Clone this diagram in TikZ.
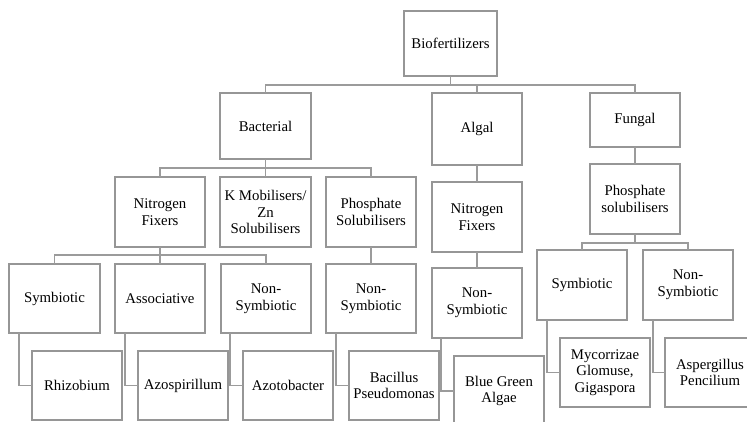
\documentclass[tikz,border=0pt]{standalone}
\usepackage{fontspec}
\setmainfont{Liberation Serif}
\definecolor{boxgray}{RGB}{150,150,150}
\definecolor{linegray}{RGB}{155,155,155}
\tikzset{
  box/.style={draw=boxgray, line width=1.3pt, inner sep=0pt, outer sep=0pt,
    align=center, minimum width=90pt, minimum height=70pt,
    font=\fontsize{14.8}{16.7}\selectfont},
  conn/.style={draw=linegray, line width=1.3pt},
}
\begin{document}
\begin{tikzpicture}[x=1pt,y=-1pt]
\fill[white] (0,0) rectangle (747,422);
\useasboundingbox (0,0) rectangle (747,422);
\clip (0,0) rectangle (747,422);

% level 0
\node[box, minimum width=93pt, minimum height=65pt] (bio) at (450.5,43.5) {Biofertilizers};
% level 1
\node[box, minimum width=91pt, minimum height=66pt] (bact) at (265.5,126) {Bacterial};
\node[box, minimum height=72pt] (algal) at (477,129) {Algal};
\node[box, minimum height=54pt] (fungal) at (635,120) {Fungal};
% level 2
\node[box] (nfix) at (160,212) {Nitrogen\\Fixers};
\node[box, minimum width=91pt] (kmob) at (265.5,212) {K Mobilisers/\\Zn\\Solubilisers};
\node[box] (psol) at (371,212) {Phosphate\\Solubilisers};
\node[box] (anf) at (477,217) {Nitrogen\\Fixers};
\node[box] (fphos) at (635,199) {Phosphate\\solubilisers};
% level 3
\node[box, minimum width=91pt, minimum height=69pt] (sym) at (54.5,298.5) {Symbiotic};
\node[box, minimum height=69pt] (assoc) at (160,298.5) {Associative};
\node[box, minimum height=69pt] (nsyma) at (266,298.5) {Non-\\Symbiotic};
\node[box, minimum height=69pt] (nsymb) at (371,298.5) {Non-\\Symbiotic};
\node[box] (ansym) at (477,303) {Non-\\Symbiotic};
\node[box] (fsym) at (582,285) {Symbiotic};
\node[box] (fnsym) at (688,285) {Non-\\Symbiotic};
% level 4
\node[box, minimum height=69pt] (rhiz) at (77,385.5) {Rhizobium};
\node[box, minimum height=69pt] (azos) at (183,385.5) {Azospirillum};
\node[box, minimum height=69pt] (azot) at (288,385.5) {Azotobacter};
\node[box, minimum height=69pt] (bac) at (394,385.5) {Bacillus\\Pseudomonas};
\node[box] (bga) at (499,391) {Blue Green\\Algae};
\node[box, minimum height=69pt] (myc) at (605,372.5) {Mycorrizae\\Glomuse,\\Gigaspora};
\node[box, minimum height=69pt] (asp) at (710,372.5) {Aspergillus\\Pencilium};

% tree connectors
\path (bio.south) ++(0,9) coordinate (j1);
\draw[conn] (bio.south) -- (j1);
\draw[conn] (bact.north) |- (j1) -| (fungal.north);
\draw[conn] (algal.north) -- (algal.north |- j1);

\path (bact.south) ++(0,9) coordinate (j2);
\draw[conn] (bact.south) -- (j2);
\draw[conn] (nfix.north) |- (j2) -| (psol.north);
\draw[conn] (kmob.north) -- (j2);

\path (nfix.south) ++(0,8) coordinate (j3);
\draw[conn] (nfix.south) -- (j3);
\draw[conn] (sym.north) |- (j3) -| (nsyma.north);
\draw[conn] (assoc.north) -- (j3);

\draw[conn] (psol.south) -- (nsymb.north);
\draw[conn] (algal.south) -- (anf.north);
\draw[conn] (anf.south) -- (ansym.north);
\draw[conn] (fungal.south) -- (fphos.north);

\path (fphos.south) ++(0,9) coordinate (j4);
\draw[conn] (fphos.south) -- (j4);
\draw[conn] (fsym.north) |- (j4) -| (fnsym.north);

% elbow connectors
\draw[conn] ([xshift=10pt]sym.south west) |- (rhiz.west);
\draw[conn] ([xshift=10pt]assoc.south west) |- (azos.west);
\draw[conn] ([xshift=9pt]nsyma.south west) |- (azot.west);
\draw[conn] ([xshift=10pt]nsymb.south west) |- (bac.west);
\draw[conn] ([xshift=9pt]ansym.south west) |- (bga.west);
\draw[conn] ([xshift=10pt]fsym.south west) |- (myc.west);
\draw[conn] ([xshift=10pt]fnsym.south west) |- (asp.west);
\end{tikzpicture}
\end{document}
